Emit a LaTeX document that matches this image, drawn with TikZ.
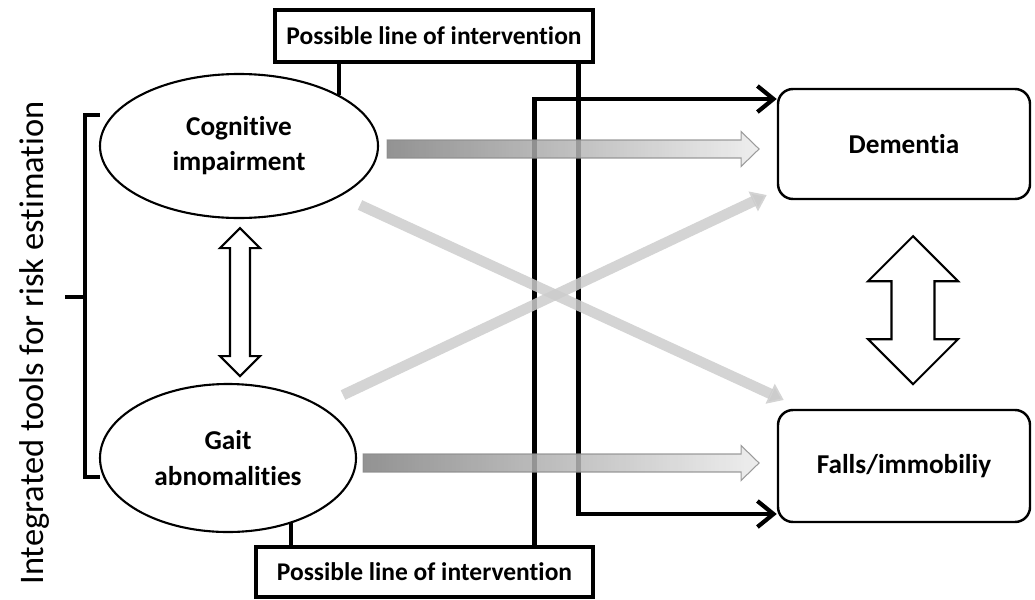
\documentclass[tikz,border=0pt]{standalone}
\usepackage{fontspec}
\setmainfont{Carlito}[RawFeature=-liga]
\usepackage{tikz}
\usetikzlibrary{shapes.geometric}
\usetikzlibrary{positioning}
\usetikzlibrary{arrows.meta,calc}

% hollow up-down arrow: top tip, length, half shaft, half head, head length
\newcommand{\updown}[5]{%
  \draw[hollow] #1 -- ++(#4,-#5) -- ++({-(#4-#3)},0) -- ++(0,{-(#2-2*#5)})
     -- ++({#4-#3},0) -- ++(-#4,-#5) -- ++(-#4,#5) -- ++({#4-#3},0)
     -- ++(0,{#2-2*#5}) -- ++({-(#4-#3)},0) -- cycle;}
% shaded block arrow: start, shaft length
\newcommand{\fatarrow}[2]{%
  \path[fat] #1 ++(0,0.18) -- ++(#2,0) -- ++(0,0.17) -- ++(0.36,-0.35)
     -- ++(-0.36,-0.35) -- ++(0,0.17) -- ++(-#2,0) -- cycle;}

\begin{document}
\begin{tikzpicture} [
       auto,
       ellip/.style={ellipse, draw, line width=1.2pt, inner sep=0pt,
               align=center, font=\bfseries\fontsize{15.5}{20}\selectfont},
       outcome/.style={rectangle, draw, line width=1.4pt, rounded corners=0.3cm,
               minimum width=5.04cm, font=\bfseries\fontsize{15.5}{20}\selectfont},
       interv/.style={rectangle, draw, line width=1.8pt, inner sep=0pt,
               font=\bfseries\fontsize{14.5}{17}\selectfont},
       link/.style={draw, line width=2.4pt,
               >={Straight Barb[length=0.32cm,width=0.52cm]}},
       cross/.style={draw=black!20, line width=6pt, draw opacity=0.85,
               -{Triangle[length=0.3cm,width=0.42cm]}},
       fat/.style={draw=black!45, line width=0.6pt, left color=black!50,
               right color=black!8, opacity=0.85},
       hollow/.style={draw, line width=1.2pt, fill=white},
       brace/.style={draw, line width=1.9pt},
       ]
       \useasboundingbox (0,0) rectangle (20.7,-11.98);

       \node (cog) [ellip, minimum width=5.56cm, minimum height=2.88cm]
             at (4.78,-2.92) {Cognitive\\impairment};
       \node (gait) [ellip, minimum width=5.12cm, minimum height=2.96cm]
             at (4.56,-9.16) {Gait\\abnomalities};
       \node (dem) [outcome, minimum height=2.2cm] at (18.08,-2.88) {Dementia};
       \node (falls) [outcome, minimum height=2.24cm] at (18.08,-9.32) {Falls/immobiliy};
       \node (topbox) [interv, minimum width=6.36cm, minimum height=1.04cm]
             at (8.68,-0.72) {Possible line of intervention};
       \node (botbox) [interv, minimum width=6.74cm, minimum height=1.0cm]
             at (8.49,-11.44) {Possible line of intervention};
       \node (tools) [rotate=90, font=\fontsize{19.6}{22}\selectfont]
             at (0.7,-6.86) {Integrated tools for risk estimation};

       \path[brace] (2.0,-2.3) -- (1.7,-2.3) -- (1.7,-9.54) -- (2.0,-9.54)
             (1.7,-5.94) -- (1.3,-5.94);

       \begin{scope}[every path/.style=link]
       \path (cog.27.5) -- (cog.27.5 |- topbox.south);
       \path (gait.-46.6) -- (gait.-46.6 |- botbox.north);
       \path[->] ([xshift=-0.32cm]topbox.south east) |- ([yshift=-0.96cm]falls.west);
       \path[->] ([xshift=-1.2cm]botbox.north east) |- ([yshift=0.9cm]dem.west);
       \end{scope}

       \draw[cross] ([shift={(2.42,-1.18)}]cog.center) -- ([shift={(0.14,1.32)}]falls.west);
       \draw[cross] ([shift={(2.3,1.26)}]gait.center) -- ([shift={(-0.2,-1.02)}]dem.west);

       \fatarrow{([xshift=0.16cm,yshift=-0.06cm]cog.east)}{7.08}
       \fatarrow{([xshift=0.12cm,yshift=-0.1cm]gait.east)}{7.56}

       \updown{([xshift=0.02cm,yshift=-0.18cm]cog.south)}{2.96}{0.2}{0.4}{0.4}
       \updown{([xshift=0.18cm,yshift=-0.72cm]dem.south)}{2.96}{0.43}{0.9}{0.9}
\end{tikzpicture}
\end{document}
